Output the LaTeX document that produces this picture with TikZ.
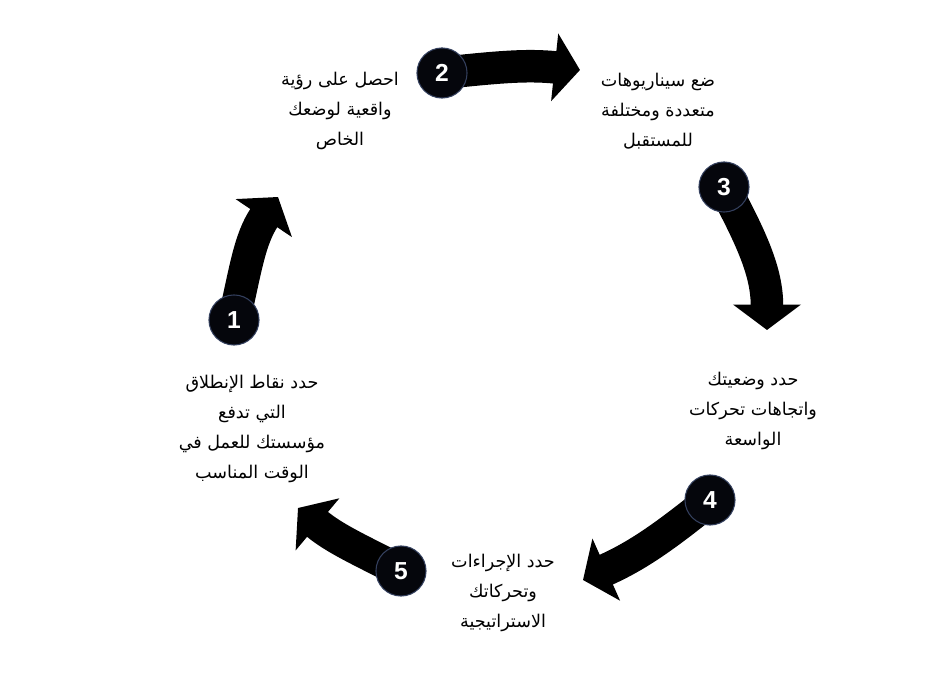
\documentclass[tikz,border=0pt]{standalone}
\usepackage{fontspec}
\newfontfamily\arabicfont[Script=Arabic]{DejaVu Sans}
\newfontfamily\numfont{Liberation Sans}
\TeXXeTstate=1
\usetikzlibrary{arrows.meta,backgrounds}
\definecolor{ringblue}{HTML}{34405E}
\definecolor{dotfill}{HTML}{05060C}
\tikzset{
  stepdot/.style={circle,draw=ringblue,line width=.6pt,fill=dotfill,text=white,inner sep=0pt,minimum size=28.5pt,font=\numfont\bfseries\fontsize{14}{16}\selectfont},
  steptext/.style={align=center,font=\arabicfont\fontsize{10}{17}\selectfont},
  cyclearr/.style={line width=18.5pt,-{Triangle[width=38pt,length=14.5pt]}}
}

\begin{document}
\begin{tikzpicture}[x=0.02cm,y=0.02cm]
  \useasboundingbox (0,0) rectangle (944,679);

  % numbered steps
  \node[stepdot] (s1) at (234,359) {1};
  \node[stepdot] (s2) at (442,606) {2};
  \node[stepdot] (s3) at (724,492) {3};
  \node[stepdot] (s4) at (710,179) {4};
  \node[stepdot] (s5) at (401,108) {5};

  % arrow tips
  \coordinate (t1) at (278,482);
  \coordinate (t2) at (580,609);
  \coordinate (t3) at (767,349);
  \coordinate (t4) at (583,99);
  \coordinate (t5) at (298,171);

  \begin{scope}[on background layer]
    \draw[cyclearr] (s1.center) to[out=77,in=236] (t1);
    \draw[cyclearr] (s2.center) to[out=6,in=174] (t2);
    \draw[cyclearr] (s3.center) to[out=-62,in=90] (t3);
    \draw[cyclearr] (s4.center) to[out=219,in=24] (t4);
    \draw[cyclearr] (s5.center) to[out=153,in=320] (t5);
  \end{scope}

  % labels
  \node[steptext] (l1) at (252,250) {\beginR حدد نقاط الإنطلاق\endR\\\beginR التي تدفع\endR\\\beginR مؤسستك للعمل في\endR\\\beginR الوقت المناسب\endR};
  \node[steptext] (l2) at (340,568) {\beginR احصل على رؤية\endR\\\beginR واقعية لوضعك\endR\\\beginR الخاص\endR};
  \node[steptext] (l3) at (658,568) {\beginR ضع سيناريوهات\endR\\\beginR متعددة ومختلفة\endR\\\beginR للمستقبل\endR};
  \node[steptext] (l4) at (753,268) {\beginR حدد وضعيتك\endR\\\beginR واتجاهات تحركات\endR\\\beginR الواسعة\endR};
  \node[steptext] (l5) at (503,86) {\beginR حدد الإجراءات\endR\\\beginR وتحركاتك\endR\\\beginR الاستراتيجية\endR};
\end{tikzpicture}
\end{document}
